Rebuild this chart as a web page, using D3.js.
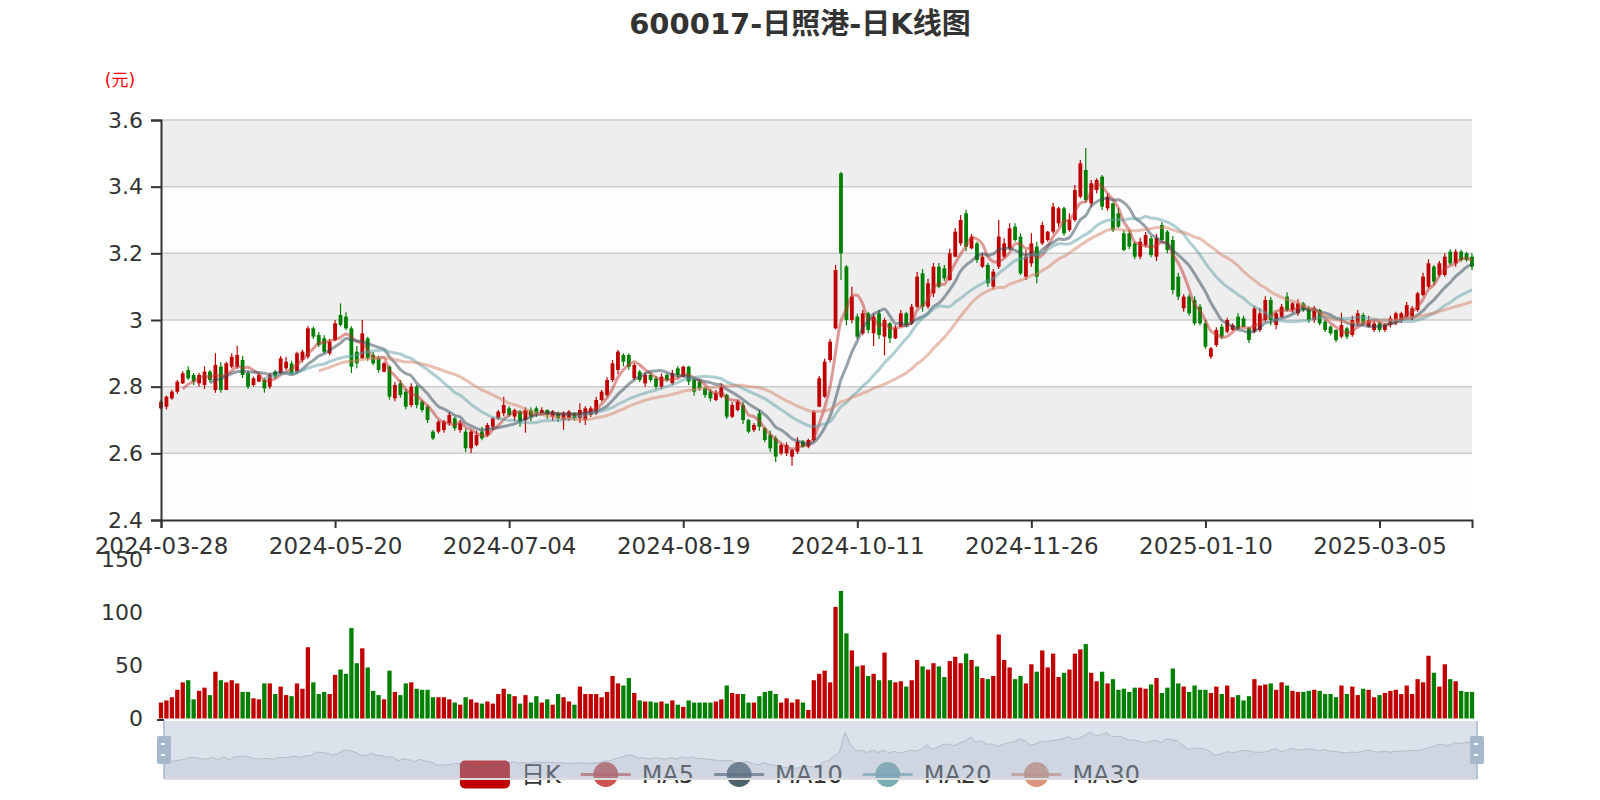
<!DOCTYPE html>
<html><head><meta charset="utf-8">
<script src="https://cdn.jsdelivr.net/npm/d3@7"></script>
<style>body{margin:0;background:#fff;} svg{display:block;font-family:'DejaVu Sans','Noto Sans CJK SC',sans-serif;}</style>
</head><body><svg id="c" width="1600" height="800"></svg>
<script>
// ---- data ----
const monthDays = [
 ["2024-03","28 29"],
 ["2024-04","01 02 03 08 09 10 11 12 15 16 17 18 19 22 23 24 25 26 29 30"],
 ["2024-05","06 07 08 09 10 13 14 15 16 17 20 21 22 23 24 27 28 29 30 31"],
 ["2024-06","03 04 05 06 07 11 12 13 14 17 18 19 20 21 24 25 26 27 28"],
 ["2024-07","01 02 03 04 05 08 09 10 11 12 15 16 17 18 19 22 23 24 25 26 29 30 31"],
 ["2024-08","01 02 05 06 07 08 09 12 13 14 15 16 19 20 21 22 23 26 27 28 29 30"],
 ["2024-09","02 03 04 05 06 09 10 11 12 13 18 19 20 23 24 25 26 27 30"],
 ["2024-10","08 09 10 11 14 15 16 17 18 21 22 23 24 25 28 29 30 31"],
 ["2024-11","01 04 05 06 07 08 11 12 13 14 15 18 19 20 21 22 25 26 27 28 29"],
 ["2024-12","02 03 04 05 06 09 10 11 12 13 16 17 18 19 20 23 24 25 26 27 30 31"],
 ["2025-01","02 03 06 07 08 09 10 13 14 15 16 17 20 21 22 23 24 27"],
 ["2025-02","05 06 07 10 11 12 13 14 17 18 19 20 21 24 25 26 27 28"],
 ["2025-03","03 04 05 06 07 10 11 12 13 14 17 18 19 20 21 24 25 26 27 28"]
];
const openP = [
 2.735,2.74,2.765,2.785,2.81,2.85,2.835,2.81,2.805,2.845, 2.79,2.86,2.79,2.86,2.86,2.88,2.84,2.805,2.815,2.82,
 2.80,2.845,2.84,2.855,2.87,2.845,2.88,2.89,2.975,2.955, 2.945,2.90,2.94,3.015,3.01,2.975,2.905,2.885,2.945,2.895,
 2.885,2.845,2.86,2.765,2.81,2.785,2.745,2.80,2.755,2.74, 2.665,2.665,2.67,2.69,2.705,2.67,2.665,2.615,2.625,2.665,
 2.655,2.68,2.705,2.72,2.735,2.71,2.725,2.70,2.73,2.735, 2.72,2.73,2.71,2.72,2.70,2.705,2.72,2.705,2.70,2.715,
 2.72,2.76,2.775,2.82,2.85,2.895,2.895,2.825,2.845,2.81, 2.835,2.825,2.80,2.835,2.81,2.855,2.83,2.86,2.82,2.815,
 2.795,2.785,2.76,2.77,2.775,2.71,2.73,2.745,2.70,2.67, 2.72,2.675,2.655,2.645,2.60,2.60,2.59,2.605,2.635,2.62,
 2.64,2.74,2.77,2.88,2.975,3.44,3.16,3.00,3.01,2.96, 3.02,2.96,3.02,2.95,2.99,2.945,2.98,3.02,2.99,3.04,
 3.14,3.04,3.08,3.16,3.155,3.12,3.19,3.23,3.32,3.215, 3.23,3.16,3.165,3.10,3.16,3.19,3.215,3.28,3.25,3.13,
 3.17,3.22,3.23,3.24,3.265,3.29,3.335,3.27,3.30,3.37, 3.45,3.35,3.39,3.43,3.335,3.35,3.32,3.26,3.26,3.23,
 3.19,3.225,3.245,3.19,3.285,3.265,3.24,3.13,3.035,3.07, 3.06,3.04,2.99,2.89,2.925,2.98,2.965,2.97,3.01,3.005,
 2.975,2.965,2.97,3.00,3.06,2.985,3.01,3.07,3.03,3.02, 3.05,3.035,3.00,3.03,2.995,2.98,2.97,2.95,2.975,2.955,
 2.99,3.015,2.98,2.97,2.99,2.97,2.985,2.99,3.00,3.01, 3.01,3.03,3.075,3.10,3.16,3.135,3.135,3.205,3.17,3.205,
 3.20,3.19
];
const closeP = [
 2.755,2.77,2.785,2.815,2.84,2.825,2.815,2.835,2.845,2.82, 2.865,2.79,2.87,2.89,2.895,2.835,2.80,2.825,2.835,2.795,
 2.835,2.83,2.885,2.875,2.84,2.90,2.905,2.975,2.95,2.925, 2.905,2.935,2.99,2.985,2.975,2.86,2.87,2.96,2.885,2.87,
 2.85,2.87,2.77,2.805,2.775,2.74,2.80,2.745,2.73,2.70, 2.645,2.695,2.695,2.715,2.675,2.69,2.615,2.665,2.655,2.645,
 2.685,2.705,2.725,2.745,2.715,2.73,2.695,2.73,2.71,2.72, 2.73,2.715,2.725,2.705,2.72,2.725,2.705,2.73,2.735,2.735,
 2.76,2.785,2.82,2.87,2.905,2.875,2.86,2.865,2.82,2.835, 2.82,2.80,2.83,2.82,2.84,2.835,2.86,2.815,2.785,2.795,
 2.775,2.765,2.78,2.80,2.71,2.745,2.755,2.70,2.665,2.685, 2.68,2.64,2.615,2.59,2.625,2.625,2.61,2.635,2.62,2.64,
 2.725,2.825,2.875,2.935,3.15,3.20,3.00,3.07,2.95,3.02, 2.97,3.01,2.955,3.00,2.945,2.975,3.02,2.985,3.04,3.13,
 3.04,3.11,3.16,3.10,3.125,3.20,3.265,3.30,3.22,3.25, 3.18,3.19,3.11,3.145,3.25,3.23,3.275,3.24,3.14,3.19,
 3.23,3.13,3.285,3.265,3.34,3.335,3.26,3.30,3.39,3.47, 3.36,3.41,3.42,3.34,3.37,3.27,3.28,3.21,3.22,3.19,
 3.235,3.255,3.195,3.245,3.24,3.21,3.09,3.07,3.07,3.02, 2.99,2.99,2.92,2.915,2.97,2.95,3.00,2.985,2.975,2.98,
 2.94,3.035,3.02,3.06,3.00,3.02,3.04,3.03,3.05,3.05, 3.03,3.00,3.035,2.99,2.97,2.96,2.94,2.985,2.95,3.00,
 3.02,2.99,3.00,2.99,2.97,2.985,3.005,3.02,3.02,3.045, 3.035,3.08,3.13,3.17,3.115,3.17,3.19,3.17,3.205,3.18,
 3.18,3.16
];
const lowP = [
 2.732,2.732,2.761,2.779,2.808,2.82,2.805,2.80,2.793,2.814, 2.782,2.782,2.79,2.855,2.853,2.826,2.793,2.80,2.814,2.782,
 2.793,2.823,2.837,2.85,2.837,2.84,2.873,2.884,2.943,2.919, 2.90,2.894,2.936,2.98,2.97,2.841,2.855,2.883,2.878,2.864,
 2.842,2.843,2.761,2.756,2.767,2.732,2.738,2.735,2.723,2.691, 2.64,2.66,2.662,2.683,2.668,2.662,2.604,2.601,2.621,2.639,
 2.65,2.671,2.70,2.711,2.709,2.697,2.68,2.662,2.697,2.709, 2.715,2.703,2.697,2.694,2.671,2.697,2.697,2.691,2.685,2.709,
 2.715,2.756,2.77,2.814,2.837,2.861,2.851,2.82,2.814,2.80, 2.814,2.793,2.793,2.814,2.805,2.826,2.828,2.805,2.773,2.788,
 2.767,2.756,2.756,2.765,2.703,2.706,2.726,2.688,2.66,2.664, 2.668,2.633,2.604,2.574,2.594,2.592,2.563,2.598,2.617,2.615,
 2.635,2.738,2.767,2.873,2.972,3.12,2.984,2.99,2.943,2.954, 2.96,2.922,2.943,2.894,2.931,2.943,2.978,2.978,2.985,3.036,
 3.025,3.034,3.069,3.095,3.118,3.118,3.188,3.223,3.206,3.212, 3.171,3.156,3.10,3.092,3.153,3.185,3.21,3.235,3.135,3.12,
 3.16,3.11,3.225,3.235,3.259,3.28,3.253,3.265,3.295,3.365, 3.352,3.34,3.38,3.33,3.328,3.264,3.276,3.206,3.212,3.182,
 3.182,3.218,3.188,3.177,3.235,3.20,3.077,3.06,3.025,3.013, 2.984,2.984,2.913,2.884,2.919,2.943,2.96,2.968,2.972,2.978,
 2.931,2.96,2.964,2.995,2.984,2.972,3.007,3.025,3.022,3.013, 3.025,2.992,2.992,2.984,2.964,2.954,2.933,2.945,2.943,2.95,
 2.984,2.984,2.978,2.964,2.964,2.964,2.978,2.984,2.99,3.007, 3.00,3.025,3.071,3.095,3.106,3.13,3.13,3.165,3.16,3.175,
 3.175,3.15
];
const highP = [
 2.761,2.773,2.791,2.82,2.846,2.861,2.841,2.842,2.861,2.85, 2.90,2.873,2.875,2.90,2.922,2.892,2.846,2.83,2.842,2.826,
 2.841,2.85,2.892,2.89,2.878,2.905,2.911,2.981,2.98,2.964, 2.954,2.943,3.00,3.05,3.023,2.981,2.922,3.00,2.95,2.904,
 2.893,2.875,2.864,2.814,2.82,2.793,2.81,2.805,2.761,2.744, 2.67,2.70,2.70,2.723,2.709,2.70,2.674,2.671,2.668,2.68,
 2.691,2.709,2.73,2.77,2.741,2.734,2.73,2.738,2.738,2.741, 2.738,2.732,2.73,2.725,2.726,2.73,2.723,2.75,2.741,2.741,
 2.77,2.79,2.828,2.88,2.91,2.90,2.90,2.87,2.85,2.843, 2.84,2.831,2.84,2.84,2.85,2.861,2.863,2.863,2.826,2.822,
 2.80,2.793,2.79,2.81,2.779,2.753,2.761,2.753,2.703,2.691, 2.73,2.68,2.668,2.653,2.63,2.633,2.613,2.648,2.64,2.644,
 2.73,2.832,2.884,2.943,3.165,3.445,3.165,3.10,3.019,3.03, 3.025,3.019,3.03,3.007,2.995,2.984,3.03,3.025,3.048,3.144,
 3.153,3.124,3.171,3.171,3.165,3.214,3.276,3.315,3.331,3.258, 3.235,3.20,3.171,3.153,3.30,3.245,3.29,3.29,3.26,3.21,
 3.26,3.235,3.295,3.267,3.352,3.34,3.34,3.32,3.405,3.48, 3.516,3.42,3.425,3.435,3.38,3.352,3.335,3.27,3.27,3.235,
 3.247,3.264,3.252,3.258,3.294,3.27,3.252,3.142,3.077,3.077, 3.071,3.048,3.00,2.919,2.978,2.989,3.007,2.99,3.021,3.013,
 2.978,3.042,3.036,3.071,3.069,3.025,3.048,3.083,3.054,3.062, 3.054,3.042,3.042,3.034,3.00,2.984,2.972,3.022,2.98,3.013,
 3.03,3.022,3.013,3.00,2.995,2.99,3.013,3.025,3.025,3.054, 3.042,3.085,3.142,3.182,3.165,3.177,3.20,3.212,3.212,3.21,
 3.205,3.20
];
const volume = [
 15,17,20,27,34,36,18,26,29,22, 44,36,34,36,33,25,25,19,18,33, 33,23,30,22,21,33,28,67,34,23, 25,23,41,46,42,85,52,66,48,26,
 22,18,45,25,22,33,34,28,27,27, 20,20,20,18,15,13,20,18,15,14, 16,14,23,28,23,21,14,22,15,21, 15,18,13,23,20,16,13,30,23,23,
 23,20,25,40,33,31,38,24,17,16, 16,15,16,14,17,13,11,17,15,15, 15,15,16,18,31,24,23,23,15,15, 21,25,26,23,15,19,15,18,15,8,
 36,42,45,34,105,120,80,64,49,50, 40,42,36,62,36,34,35,30,36,55, 49,46,52,49,39,54,58,52,61,55, 49,38,37,40,79,55,48,37,40,33,
 51,44,64,48,61,39,43,46,61,65, 70,43,35,44,33,37,27,28,25,29, 29,28,32,38,24,29,47,33,30,25, 31,27,27,24,30,23,31,20,22,17,
 21,37,31,32,33,27,34,31,26,25, 25,26,27,26,23,23,20,31,23,30, 22,28,27,20,22,24,26,27,23,31, 23,37,34,59,43,30,51,37,35,26,
 25,25
];
const priceTicks = [2.4, 2.6, 2.8, 3.0, 3.2, 3.4, 3.6];
const volumeTicks = [0, 50, 100, 150];
const maPeriods = [5, 10, 20, 30];
const maNames = ["MA5", "MA10", "MA20", "MA30"];
const maColors = ["#c23531", "#2f4554", "#61a0a8", "#d48265"];
const titleText = "600017-日照港-日K线图";
const unitText = "(元)";
const candleName = "日K";

// ---- layout ----
const UP = "#c00000", DOWN = "#008000";
const L = 161, R = 1472, T = 120, B = 520;
const VT = 559, VB = 718.5;
const DZL = 164, DZR = 1477, DZT = 721, DZB = 779;

const svg = d3.select("#c");
const dates = monthDays.flatMap(([m, ds]) => ds.split(" ").map(d => m + "-" + d));
const data = dates.map((d, i) => ({date: d, o: openP[i], c: closeP[i], l: lowP[i], h: highP[i], v: volume[i]}));
const colorOf = d => d.c >= d.o ? UP : DOWN;

const x = d3.scalePoint().domain(dates).range([L, R]);
const y = d3.scaleLinear().domain([2.4, 3.6]).range([B, T]);
const yv = d3.scaleLinear().domain([0, 150]).range([VB, VT]);

// split areas
const bg = svg.append("g");
bg.selectAll("rect").data(d3.pairs(priceTicks)).join("rect")
  .attr("x", L).attr("width", R - L)
  .attr("y", d => y(d[1])).attr("height", d => y(d[0]) - y(d[1]))
  .attr("fill", (d, i) => i % 2 === 0 ? "#fdfdfd" : "#eeeeee");
bg.selectAll("line").data(priceTicks.slice(1)).join("line")
  .attr("x1", L).attr("x2", R).attr("y1", d => y(d)).attr("y2", d => y(d))
  .attr("stroke", "#cccccc").attr("stroke-width", 1.5);

// candles
const cg = svg.append("g");
cg.selectAll("line").data(data).join("line")
  .attr("x1", d => x(d.date)).attr("x2", d => x(d.date))
  .attr("y1", d => y(d.h)).attr("y2", d => y(d.l))
  .attr("stroke", colorOf).attr("stroke-width", 1.2);
cg.selectAll("rect").data(data).join("rect")
  .attr("x", d => x(d.date) - 1.9).attr("width", 3.8)
  .attr("y", d => y(Math.max(d.o, d.c)))
  .attr("height", d => Math.max(1, Math.abs(y(d.o) - y(d.c))))
  .attr("fill", colorOf);

// MA lines
const line = d3.line().curve(d3.curveCatmullRom.alpha(0.5));
maPeriods.forEach((n, k) => {
  const pts = [];
  data.forEach((d, i) => {
    if (i >= n - 1) pts.push([x(d.date), y(d3.mean(closeP.slice(i - n + 1, i + 1)))]);
  });
  svg.append("path").attr("d", line(pts)).attr("fill", "none")
    .attr("stroke", maColors[k]).attr("stroke-opacity", 0.5).attr("stroke-width", 3);
});

// axes
function styleAxis(g, fs) {
  g.selectAll(".domain").attr("stroke", "#333").attr("stroke-width", 2);
  g.selectAll(".tick line").attr("stroke", "#333").attr("stroke-width", 2);
  g.selectAll("text").attr("fill", "#333").attr("font-size", fs).attr("font-family", "'DejaVu Sans',sans-serif");
}
const xa = svg.append("g").attr("transform", `translate(0,${B})`)
  .call(d3.axisBottom(x).tickValues(dates.filter((d, i) => i % 32 === 0)).tickSize(8).tickPadding(10));
styleAxis(xa, 23);
const ya = svg.append("g").attr("transform", `translate(${L},0)`)
  .call(d3.axisLeft(y).tickValues(priceTicks).tickSize(10).tickPadding(8).tickFormat(d3.format("~g")));
styleAxis(ya, 22);

// volume
svg.append("g").selectAll("rect").data(data).join("rect")
  .attr("x", d => x(d.date) - 2.15).attr("width", 4.3)
  .attr("y", d => yv(d.v)).attr("height", d => VB - yv(d.v))
  .attr("fill", colorOf);
const va = svg.append("g").attr("transform", `translate(${L},0)`)
  .call(d3.axisLeft(yv).tickValues(volumeTicks).tickSize(0).tickPadding(18));
va.select(".domain").remove();
styleAxis(va, 22);
svg.append("line").attr("x1", 157).attr("x2", 164).attr("y1", 720).attr("y2", 720).attr("stroke", "#333").attr("stroke-width", 2);

// legend (drawn under the slider)
const lg = svg.append("g").attr("font-size", 24).attr("fill", "#333");
const items = [{name: candleName, color: UP, type: "rect"}].concat(maNames.map((n, k) => ({name: n, color: maColors[k], type: "line"})));
const texts = items.map(it => lg.append("text").text(it.name).attr("y", 783));
const widths = texts.map(t => t.node().getComputedTextLength());
const total = items.length * 50 + items.length * 11 + (items.length - 1) * 20 + d3.sum(widths);
let cx = 800 - total / 2;
const LY = 774.5;
items.forEach((it, k) => {
  if (it.type === "rect") {
    lg.append("rect").attr("x", cx).attr("y", LY - 14).attr("width", 50).attr("height", 28).attr("rx", 5).attr("fill", it.color);
  } else {
    lg.append("line").attr("x1", cx).attr("x2", cx + 50).attr("y1", LY).attr("y2", LY).attr("stroke", it.color).attr("stroke-width", 3).attr("stroke-opacity", 0.7);
    lg.append("circle").attr("cx", cx + 25).attr("cy", LY).attr("r", 12.5).attr("fill", it.color).attr("opacity", 0.85);
  }
  texts[k].attr("x", cx + 61);
  cx += 61 + widths[k] + 20;
});

// dataZoom slider
const dz = svg.append("g");
const xs = d3.scalePoint().domain(dates).range([DZL, DZR]);
const ext = d3.extent(openP);
const pad = (ext[1] - ext[0]) * 0.3;
const ys = d3.scaleLinear().domain([ext[0] - pad, ext[1] + pad]).range([DZB, DZT]);
dz.append("path").attr("d", d3.area().x(d => xs(d.date)).y0(DZB).y1(d => ys(d.o))(data))
  .attr("fill", "rgba(47,69,84,0.1)");
dz.append("path").attr("d", d3.line().x(d => xs(d.date)).y(d => ys(d.o))(data))
  .attr("fill", "none").attr("stroke", "rgba(47,69,84,0.3)").attr("stroke-width", 1);
dz.append("rect").attr("x", DZL).attr("y", DZT).attr("width", DZR - DZL).attr("height", DZB - DZT)
  .attr("fill", "rgba(167,183,204,0.4)");
dz.append("line").attr("x1", DZL).attr("x2", DZR).attr("y1", DZB).attr("y2", DZB).attr("stroke", "#ddd").attr("stroke-width", 2);
dz.append("line").attr("x1", DZL).attr("x2", DZL).attr("y1", DZT).attr("y2", DZB).attr("stroke", "#a7b7cc").attr("stroke-width", 1.5);
dz.append("line").attr("x1", DZR).attr("x2", DZR).attr("y1", DZT).attr("y2", DZB).attr("stroke", "#a7b7cc").attr("stroke-width", 1.5);
[DZL, DZR].forEach(hx => {
  dz.append("rect").attr("x", hx - 7).attr("y", 736).attr("width", 14).attr("height", 28).attr("rx", 2).attr("fill", "#a7b7cc");
  dz.append("rect").attr("x", hx - 3).attr("y", 743).attr("width", 4).attr("height", 2).attr("fill", "#fff");
  dz.append("rect").attr("x", hx - 3).attr("y", 754).attr("width", 4).attr("height", 2).attr("fill", "#fff");
});

// title and unit
svg.append("text").attr("x", 800).attr("y", 34).attr("text-anchor", "middle")
  .attr("font-size", 29).attr("font-weight", "bold").attr("fill", "#333").text(titleText);
svg.append("text").attr("x", 120).attr("y", 86).attr("text-anchor", "middle")
  .attr("font-size", 17).attr("fill", "#ff0000").text(unitText);
</script>
</body></html>
